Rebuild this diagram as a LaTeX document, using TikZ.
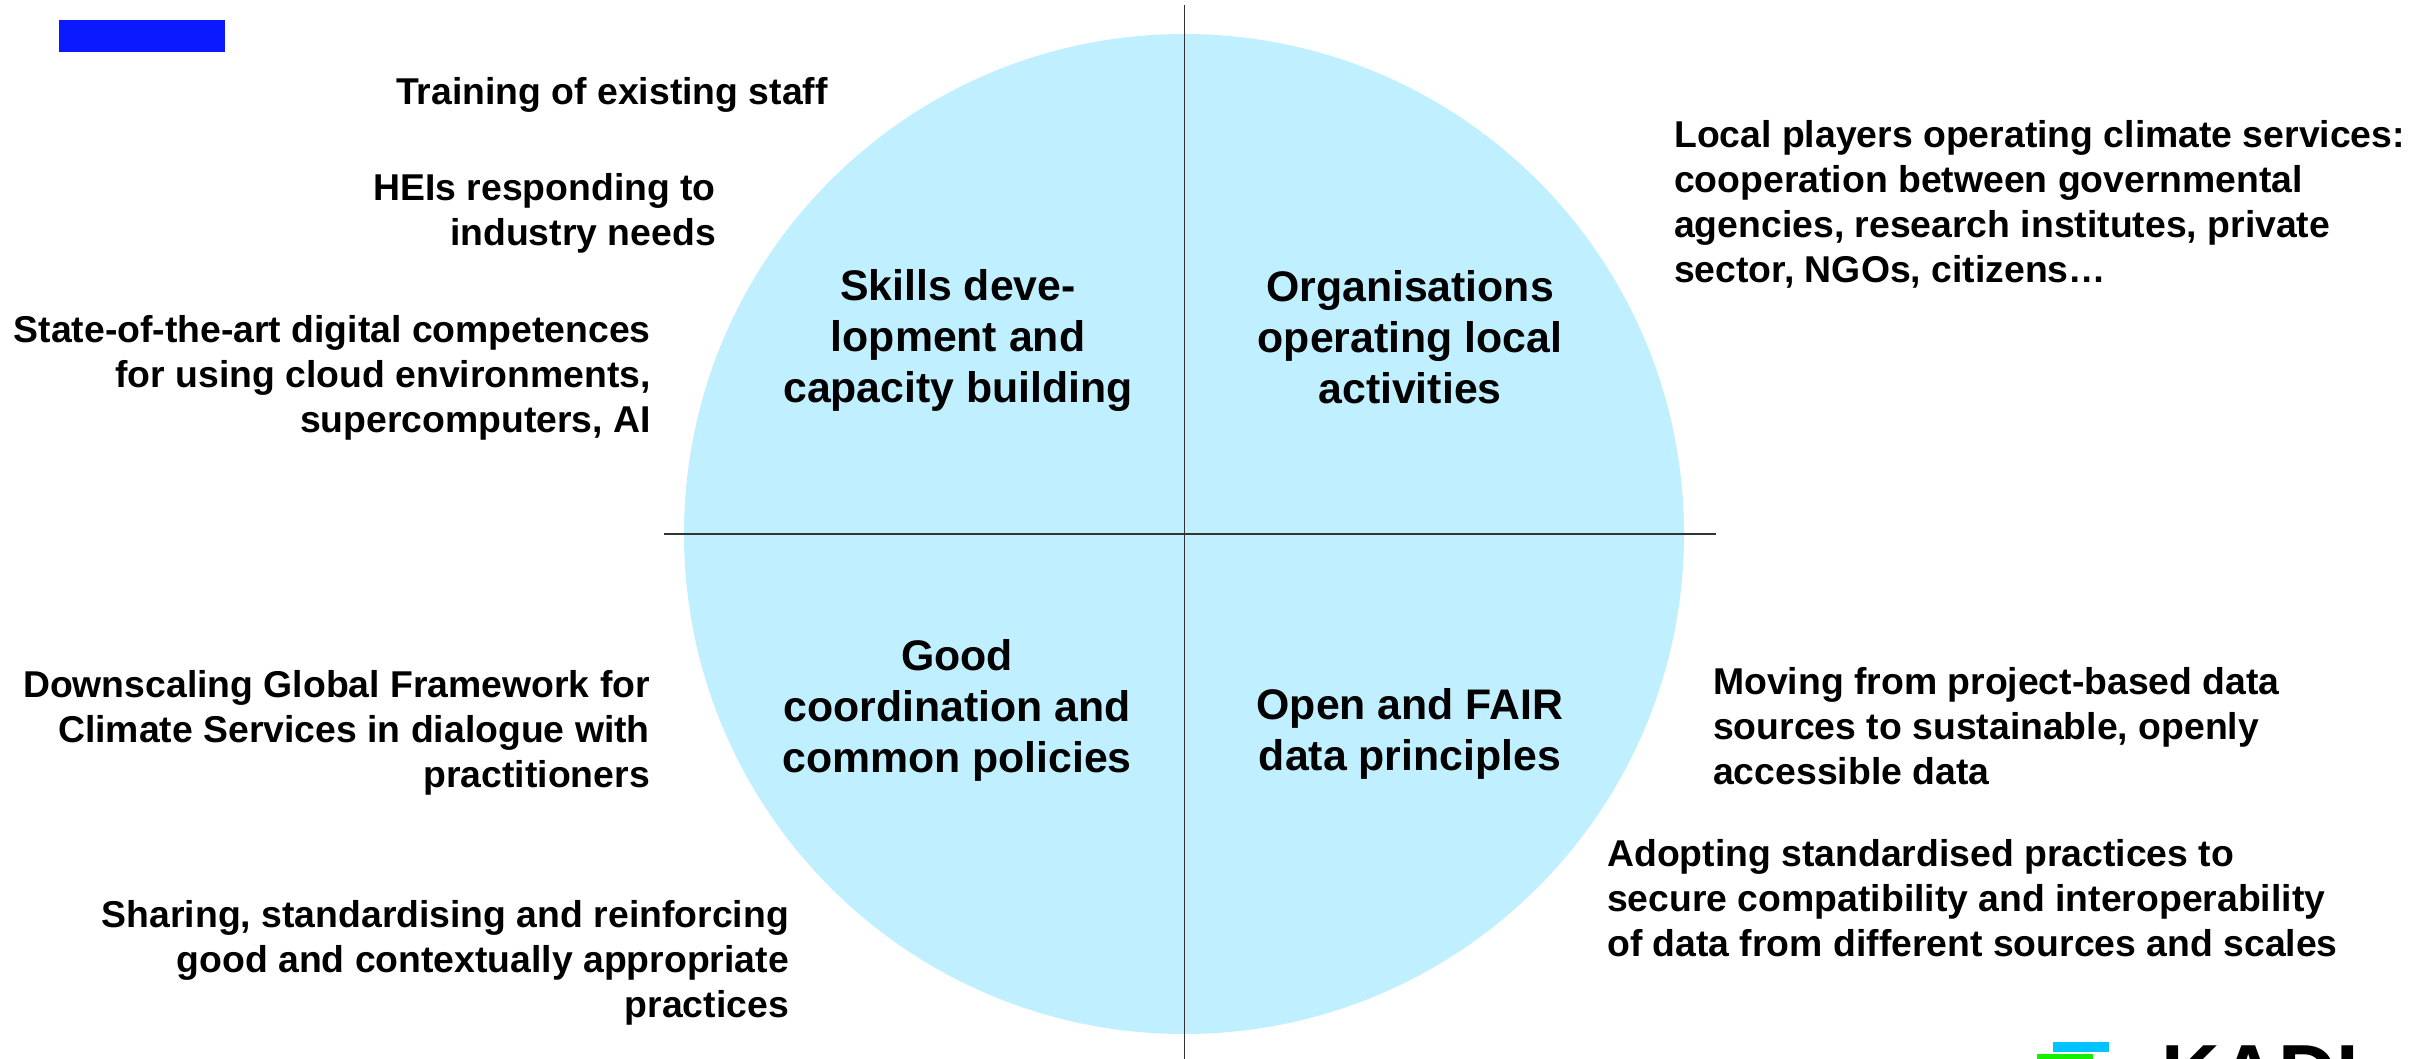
\documentclass[tikz,border=0pt]{standalone}
\usepackage{fontspec}
\setmainfont{Liberation Sans}
\definecolor{circ}{HTML}{C0EFFF}
\definecolor{bluebar}{HTML}{0A19FF}
\definecolor{cyanbar}{HTML}{00C3FF}
\definecolor{greenbar}{HTML}{14F000}
\tikzset{
  side/.style={inner sep=0pt,font=\fontsize{37.35}{45}\selectfont\bfseries},
  sider/.style={side,align=right,anchor=east},
  sidel/.style={side,align=left,anchor=west},
  core/.style={inner sep=0pt,align=center,font=\fontsize{42.8}{51}\selectfont\bfseries},
  axis/.style={draw=black!80,line width=1.5pt},
}
\begin{document}
\begin{tikzpicture}[x=1pt,y=-1pt]
\useasboundingbox (0,0) rectangle (2428,1059);
\clip (0,0) rectangle (2428,1059);
\fill[white] (0,0) rectangle (2428,1059);
\fill[circ] (1184,534) circle[radius=500];
\coordinate (vt) at (1184.5,5);
\coordinate (vb) at (1184.5,1059);
\coordinate (hl) at (664,534);
\coordinate (hr) at (1716,534);
\draw[axis] (vt) -- (vb);
\draw[axis] (hl) -- (hr);
\fill[bluebar] (59,20) rectangle (225,52);
\fill[cyanbar] (2053,1042) rectangle (2109,1052);
\fill[greenbar] (2037,1054) rectangle (2093,1059);
\node[anchor=base west,inner sep=0pt,font=\fontsize{81}{81}\selectfont\bfseries] (kadi) at (2161,1101) {KADI};
\node[sider] (a1) at (828,95) {Training of existing staff};
\node[sider] (a2) at (716,213) {HEIs responding to\\industry needs};
\node[sider] (a3) at (651,378) {State-of-the-art digital competences\\for using cloud environments,\\supercomputers, AI};
\node[core] (c1) at (958,341) {Skills deve-\\lopment and\\capacity building};
\node[core] (c2) at (1410,337) {Organisations\\operating local\\activities};
\node[sidel] (b1) at (1674,204) {Local players operating climate services:\\cooperation between governmental\\agencies, research institutes, private\\sector, NGOs, citizens…};
\node[core] (c3) at (957,710) {Good\\coordination and\\common policies};
\node[core] (c4) at (1410,734) {Open and FAIR\\data principles};
\node[sider] (d1) at (650,733) {Downscaling Global Framework for\\Climate Services in dialogue with\\practitioners};
\node[sider] (d2) at (789,963) {Sharing, standardising and reinforcing\\good and contextually appropriate\\practices};
\node[sidel] (e1) at (1713,726) {Moving from project-based data\\sources to sustainable, openly\\accessible data};
\node[sidel] (e2) at (1607,898) {Adopting standardised practices to\\secure compatibility and interoperability\\of data from different sources and scales};
\end{tikzpicture}
\end{document}
